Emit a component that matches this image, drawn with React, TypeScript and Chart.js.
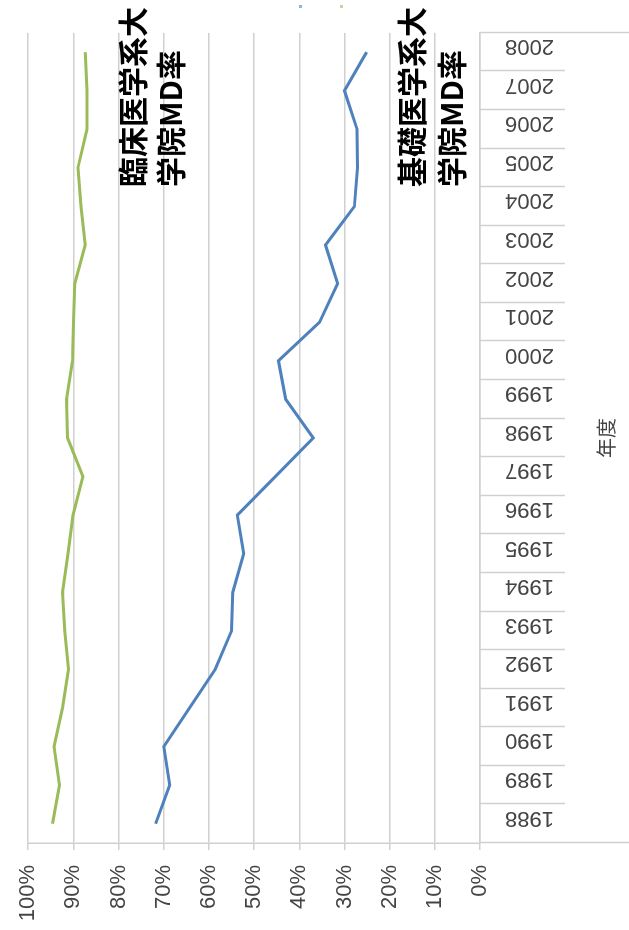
import { useEffect, useRef } from "react";
import { Chart, registerables } from "chart.js";

Chart.register(...registerables);

const years = [
  "1988", "1989", "1990", "1991", "1992", "1993", "1994", "1995", "1996", "1997",
  "1998", "1999", "2000", "2001", "2002", "2003", "2004", "2005", "2006", "2007", "2008",
];
const basicRates = [
  71.8, 68.7, 70.0, 64.3, 58.6, 55.0, 54.7, 52.3, 53.7, 45.3,
  36.9, 43.0, 44.6, 35.5, 31.5, 34.2, 27.8, 27.1, 27.2, 30.0, 25.1,
];
const clinicalRates = [
  94.6, 93.1, 94.3, 92.4, 91.1, 91.9, 92.4, 91.2, 90.1, 87.9,
  91.3, 91.5, 90.2, 90.0, 89.7, 87.4, 88.3, 89.0, 87.0, 87.0, 87.4,
];
const seriesNames = ["基礎医学系大学院MD率", "臨床医学系大学院MD率"];
const clinicalLabelLines = ["臨床医学系大", "学院MD率"];
const basicLabelLines = ["基礎医学系大", "学院MD率"];
const axisTitle = "年度";

const BLUE = "#4f81bd";
const GREEN = "#9bbb59";
const GRID = "#d0d0d0";
const TEXT = "#444444";

// canvas in un-rotated orientation
const W = 930;
const H = 629;

const overlayPlugin = {
  id: "overlay",
  afterDraw(chart: any) {
    const { ctx, chartArea } = chart;
    const xs = chart.scales.x;
    const n = years.length;
    const step = (chartArea.right - chartArea.left) / n;
    ctx.save();
    // category separators / label box
    ctx.strokeStyle = GRID;
    ctx.lineWidth = 1.5;
    for (let i = 0; i <= n; i++) {
      const px = i === n ? chartArea.right : xs.getPixelForValue(i) - step / 2;
      const yEnd = i === 0 || i === n ? H : chartArea.bottom + 85;
      ctx.beginPath();
      ctx.moveTo(Math.round(px) + 0.5, chartArea.bottom);
      ctx.lineTo(Math.round(px) + 0.5, yEnd);
      ctx.stroke();
    }
    // annotations
    ctx.fillStyle = "#000";
    ctx.font = "bold 30px 'Noto Sans CJK JP', 'Noto Sans CJK SC', sans-serif";
    ctx.textAlign = "left";
    ctx.textBaseline = "middle";
    const tx = chartArea.left + 656;
    ctx.fillText(clinicalLabelLines[0], tx, chartArea.top + 104.5);
    ctx.fillText(clinicalLabelLines[1], tx, chartArea.top + 142);
    ctx.fillText(basicLabelLines[0], tx, chartArea.top + 383.5);
    ctx.fillText(basicLabelLines[1], tx, chartArea.top + 423);
    // clipped legend remnants
    ctx.fillStyle = BLUE;
    ctx.globalAlpha = 0.6;
    ctx.fillRect(W - 8, 299, 3, 3);
    ctx.fillStyle = GREEN;
    ctx.fillRect(W - 8, 340, 3, 3);
    ctx.restore();
  },
};

export default function App() {
  const ref = useRef<HTMLCanvasElement | null>(null);

  useEffect(() => {
    if (!ref.current) return;
    const chart = new Chart(ref.current, {
      type: "line",
      data: {
        labels: years,
        datasets: [
          {
            label: seriesNames[0],
            data: basicRates,
            borderColor: BLUE,
            backgroundColor: BLUE,
            borderWidth: 3,
            pointRadius: 0,
            tension: 0,
          },
          {
            label: seriesNames[1],
            data: clinicalRates,
            borderColor: GREEN,
            backgroundColor: GREEN,
            borderWidth: 3,
            pointRadius: 0,
            tension: 0,
          },
        ],
      },
      options: {
        responsive: false,
        animation: false,
        devicePixelRatio: 1,
        layout: { padding: { top: 23, right: 31, left: 0, bottom: 0 } },
        plugins: {
          legend: { display: false },
          tooltip: { enabled: false },
        },
        scales: {
          x: {
            type: "category",
            offset: true,
            grid: { display: false, drawTicks: false },
            border: { display: true, color: GRID, width: 1.5 },
            ticks: {
              autoSkip: false,
              minRotation: 90,
              maxRotation: 90,
              padding: 25,
              labelOffset: 6,
              color: TEXT,
              font: { family: "'Liberation Sans', Arial, sans-serif", size: 22 },
            },
            title: {
              display: true,
              text: axisTitle,
              color: TEXT,
              padding: { top: 0, bottom: 11 },
              font: { family: "'Noto Sans CJK JP', sans-serif", size: 20 },
            },
            afterFit(scale: any) {
              scale.height = 149;
            },
          },
          y: {
            min: 0,
            max: 100,
            ticks: {
              stepSize: 10,
              padding: 15,
              color: TEXT,
              font: { family: "'Liberation Sans', Arial, sans-serif", size: 22 },
              callback: (v: any) => v + "%",
            },
            grid: { color: GRID, lineWidth: 1.5, drawTicks: true, tickLength: 7 },
            border: { display: true, color: GRID, width: 1.5 },
            afterFit(scale: any) {
              scale.width = 87;
            },
          },
        },
      },
      plugins: [overlayPlugin],
    });
    return () => chart.destroy();
  }, []);

  return (
    <div
      style={{
        position: "fixed",
        left: 0,
        top: 0,
        width: 629,
        height: 930,
        overflow: "hidden",
        background: "#fff",
      }}
    >
      <div
        style={{
          position: "absolute",
          left: 0,
          top: 0,
          width: W,
          height: H,
          transformOrigin: "0 0",
          transform: `translateY(${W}px) rotate(-90deg)`,
        }}
      >
        <canvas ref={ref} width={W} height={H} style={{ display: "block", width: W, height: H }} />
      </div>
    </div>
  );
}
